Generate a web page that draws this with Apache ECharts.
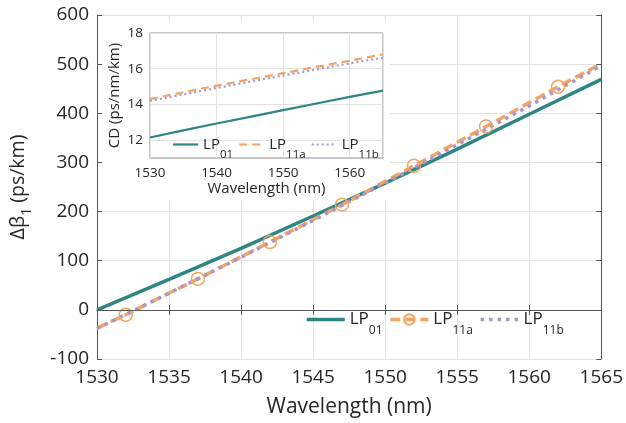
<!DOCTYPE html>
<html>
<head>
<meta charset="utf-8">
<script src="https://cdn.jsdelivr.net/npm/echarts@6/dist/echarts.min.js"></script>
<style>html,body{margin:0;padding:0;background:#fff}#c{width:626px;height:423px}</style>
</head>
<body>
<div id="c"></div>
<script>
// ---- main plot data ----
const seriesNames = ['LP01', 'LP11a', 'LP11b'];
const wlMain = [1530, 1535, 1540, 1545, 1550, 1555, 1560, 1565];
const dB1_LP01 = [0, 62, 125, 191, 258, 327, 398, 469];
const wlMarked = [1530, 1532, 1537, 1542, 1547, 1552, 1557, 1562, 1565];
const dB1_LP11a = [-37, -10, 63, 138, 214, 293, 373, 454, 501];
const dB1_LP11b = [-38, 34, 107, 182, 258, 336, 415, 497];
const xTicksMain = [1530, 1565, 5];
const yTicksMain = [-100, 600, 100];
// ---- inset data ----
const wlInset = [1530, 1535, 1540, 1545, 1550, 1555, 1560, 1565];
const cd_LP01 = [12.15, 12.55, 12.93, 13.3, 13.68, 14.05, 14.42, 14.77];
const cd_LP11a = [14.3, 14.68, 15.05, 15.4, 15.75, 16.1, 16.45, 16.8];
const cd_LP11b = [14.2, 14.56, 14.92, 15.27, 15.62, 15.96, 16.3, 16.62];
const xTicksInset = [1530, 1565, 10];
const yTicksInset = [11, 18, 2];

const C1 = '#2f8584', C2 = '#f2a462', C3 = '#a897cc';
const FONT = 'Open Sans';
const TXT = '#262626';
const pair = (xs, ys) => xs.map((x, i) => [x, ys[i]]);
const sub = n => '{a|' + n.slice(0, 2) + '}{b|' + n.slice(2) + '}';
const hiddenSym = {color: 'rgba(0,0,0,0)', borderColor: 'rgba(0,0,0,0)', borderWidth: 0};

const chart = echarts.init(document.getElementById('c'), null, {renderer: 'canvas'});
const mainGrid = {left: 97, top: 15, width: 508, height: 345, z: 0};
const insetGrid = {left: 150, top: 33, width: 233, height: 125, show: true, backgroundColor: '#fff', borderColor: '#8c8c8c', borderWidth: 1, z: 4};

const option = {
  animation: false,
  textStyle: {fontFamily: FONT},
  grid: [mainGrid, insetGrid],
  graphic: {elements: [{type: 'rect', z: 1, shape: {x: 103, y: 21, width: 287, height: 179}, style: {fill: '#fff'}}]},
  xAxis: [
    {gridIndex: 0, type: 'value', min: xTicksMain[0], max: xTicksMain[1], interval: xTicksMain[2], z: 0,
     name: 'Wavelength (nm)', nameLocation: 'middle', nameGap: 38,
     nameTextStyle: {fontSize: 21, color: TXT, fontFamily: FONT},
     axisLine: {lineStyle: {color: '#555', width: 1}},
     axisTick: {inside: true, length: 5, lineStyle: {color: '#555'}},
     axisLabel: {fontSize: 19, color: TXT, margin: 9, fontFamily: FONT, formatter: v => String(v)},
     splitLine: {show: true, lineStyle: {color: '#e3e3e3', width: 1}}},
    {gridIndex: 0, type: 'value', position: 'top', min: xTicksMain[0], max: xTicksMain[1], interval: xTicksMain[2], z: 3,
     axisLine: {show: true, lineStyle: {color: '#555'}}, axisTick: {inside: true, length: 5, lineStyle: {color: '#555'}},
     axisLabel: {show: false}, splitLine: {show: false}},
    {gridIndex: 1, type: 'value', min: xTicksInset[0], max: xTicksInset[1], interval: xTicksInset[2], z: 5,
     name: 'Wavelength (nm)', nameLocation: 'middle', nameGap: 22,
     nameTextStyle: {fontSize: 15, color: TXT, fontFamily: FONT},
     axisLine: {show: false}, axisTick: {show: false},
     axisLabel: {fontSize: 13.5, color: TXT, margin: 8, fontFamily: FONT, formatter: v => (v % 10 === 0 ? String(v) : '')},
     splitLine: {show: true, lineStyle: {color: '#e3e3e3'}}}
  ],
  yAxis: [
    {gridIndex: 0, type: 'value', min: yTicksMain[0], max: yTicksMain[1], interval: yTicksMain[2], z: 0,
     name: '{a|Δβ}{b|1}{a| (ps/km)}', nameLocation: 'middle', nameGap: 63,
     nameTextStyle: {color: TXT, fontFamily: FONT, rich: {
       a: {fontSize: 19.5, color: TXT, fontFamily: FONT, lineHeight: 32},
       b: {fontSize: 14, color: TXT, fontFamily: FONT, verticalAlign: 'bottom', lineHeight: 32}}},
     axisLine: {show: true, lineStyle: {color: '#555'}},
     axisTick: {show: true, inside: true, length: 5, lineStyle: {color: '#555'}},
     axisLabel: {fontSize: 19, color: TXT, margin: 8, fontFamily: FONT},
     splitLine: {show: true, lineStyle: {color: '#e3e3e3'}}},
    {gridIndex: 0, type: 'value', position: 'right', min: yTicksMain[0], max: yTicksMain[1], interval: yTicksMain[2], z: 3,
     axisLine: {show: true, lineStyle: {color: '#555'}}, axisTick: {show: true, inside: true, length: 5, lineStyle: {color: '#555'}},
     axisLabel: {show: false}, splitLine: {show: false}},
    {gridIndex: 1, type: 'value', min: yTicksInset[0], max: yTicksInset[1], interval: 1, z: 5,
     name: 'CD (ps/nm/km)', nameLocation: 'middle', nameGap: 28,
     nameTextStyle: {fontSize: 15, color: TXT, fontFamily: FONT},
     axisLine: {show: false}, axisTick: {show: false},
     axisLabel: {fontSize: 13.5, color: TXT, margin: 7, fontFamily: FONT, formatter: v => (v % yTicksInset[2] === 0 ? String(v) : '')},
     splitLine: {show: true, lineStyle: {color: ['rgba(0,0,0,0)', '#e3e3e3']}}}
  ],
  legend: [
    {left: 305, top: 311, padding: 0, itemGap: 6, itemWidth: 38, itemHeight: 13, z: 7,
     data: [{name: seriesNames[0], itemStyle: hiddenSym}, {name: seriesNames[1]}, {name: seriesNames[2], itemStyle: hiddenSym}],
     formatter: sub,
     lineStyle: {width: 3.5},
     textStyle: {rich: {a: {fontSize: 17, color: TXT, fontFamily: FONT, lineHeight: 34},
                        b: {fontSize: 12, color: TXT, fontFamily: FONT, verticalAlign: 'bottom', lineHeight: 34}}}},
    {left: 172, top: 137, padding: 0, itemGap: 5, itemWidth: 25, itemHeight: 10, z: 7,
     data: seriesNames.map(n => ({name: n + ' ', itemStyle: hiddenSym})), formatter: n => sub(n.trim()),
     lineStyle: {width: 2.2},
     textStyle: {rich: {a: {fontSize: 15, color: TXT, fontFamily: FONT, lineHeight: 32},
                        b: {fontSize: 11.5, color: TXT, fontFamily: FONT, verticalAlign: 'bottom', lineHeight: 32}}}}
  ],
  series: [
    {name: seriesNames[0], type: 'line', xAxisIndex: 0, yAxisIndex: 0, z: 2, symbol: 'none',
     data: pair(wlMain, dB1_LP01), color: C1, lineStyle: {color: C1, width: 3.5}},
    {name: seriesNames[1], type: 'line', xAxisIndex: 0, yAxisIndex: 0, z: 2, symbol: 'circle', symbolSize: 13,
     showSymbol: true, showAllSymbol: true,
     data: wlMarked.map((x, i) => ({value: [x, dB1_LP11a[i]], symbol: (i === 0 || i === wlMarked.length - 1) ? 'none' : 'circle'})),
     color: C2, lineStyle: {color: C2, width: 3.5, type: [10, 5]},
     itemStyle: {color: 'rgba(255,255,255,0)', borderColor: C2, borderWidth: 1.5}},
    {name: seriesNames[2], type: 'line', xAxisIndex: 0, yAxisIndex: 0, z: 2, symbol: 'none',
     data: pair(wlMain, dB1_LP11b), color: C3, lineStyle: {color: C3, width: 3.5, type: [3.5, 5]}},
    {name: seriesNames[0] + ' ', type: 'line', xAxisIndex: 2, yAxisIndex: 2, z: 6, symbol: 'none',
     data: pair(wlInset, cd_LP01), color: C1, lineStyle: {color: C1, width: 2.2}},
    {name: seriesNames[1] + ' ', type: 'line', xAxisIndex: 2, yAxisIndex: 2, z: 6, symbol: 'none',
     data: pair(wlInset, cd_LP11a), color: C2, lineStyle: {color: C2, width: 2.2, type: [8, 5]}},
    {name: seriesNames[2] + ' ', type: 'line', xAxisIndex: 2, yAxisIndex: 2, z: 6, symbol: 'none',
     data: pair(wlInset, cd_LP11b), color: C3, lineStyle: {color: C3, width: 2.2, type: [2, 3]}}
  ]
};
chart.setOption(option);
</script>
</body>
</html>
